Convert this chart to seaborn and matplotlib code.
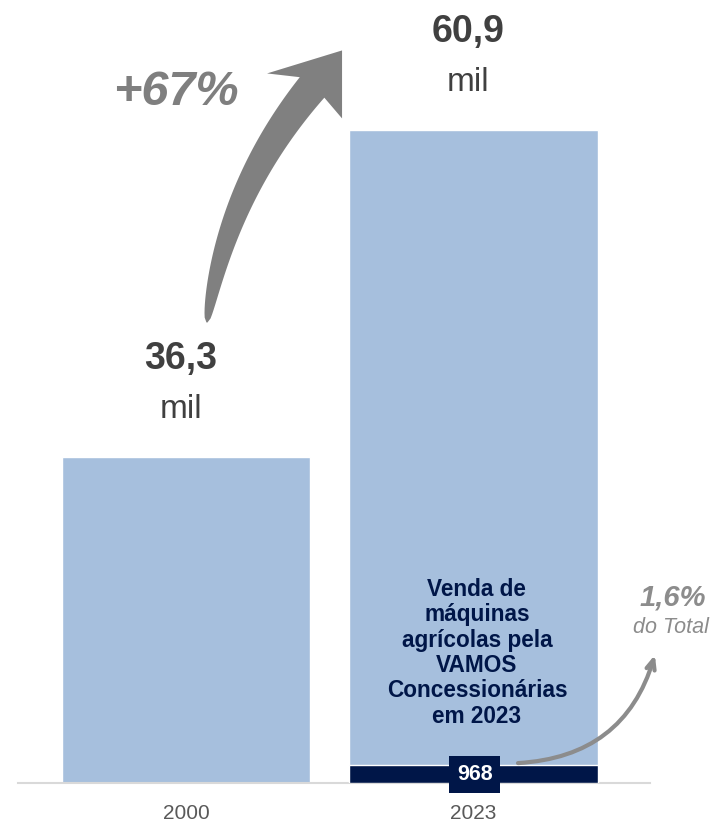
import numpy as np
import seaborn as sns
import matplotlib
matplotlib.use('Agg')
import matplotlib.pyplot as plt
from matplotlib.patches import Polygon
from matplotlib.transforms import IdentityTransform

# data
years = ['2000', '2023']
sales_thousand = [36.3, 60.9]
value_labels = ['36,3', '60,9']
growth_label = '+67%'
vamos_units = 968
vamos_share = '1,6%'
vamos_text = 'Venda de\nmáquinas\nagrícolas pela\nVAMOS\nConcessionárias\nem 2023'

bar_color = '#A6BFDD'
navy = '#001648'
gray_txt = '#404040'
arrow_gray = '#808080'

sns.set_style('white')
plt.rcParams['font.family'] = ['Liberation Sans', 'DejaVu Sans']

fig = plt.figure(figsize=(7.16, 8.22), dpi=100)
ax = fig.add_axes([18 / 716, 39 / 822, 632 / 716, 783 / 822])

bw = 0.863
sns.barplot(x=years, y=sales_thousand, ax=ax, color=bar_color, saturation=1, width=bw)

# axis starts above zero like the original slide
y_low = 11.7
ax.set_ylim(y_low, 70.7)
ax.set_xlim(-0.584, 1.614)

# dark strip at the bottom of the 2023 bar for the VAMOS units
band = 1.35
ax.bar(1, band, bottom=y_low, width=bw, color=navy, zorder=3)
ax.text(1.005, y_low + band / 2 - 0.05, f'{vamos_units}', ha='center', va='center',
        color='white', fontsize=15.5, fontweight='bold', zorder=5,
        bbox=dict(boxstyle='square,pad=0.36', fc=navy, ec='none'), clip_on=False)

# labels above bars
for i, (v, lab) in enumerate(zip(sales_thousand, value_labels)):
    ax.annotate(lab, (i, v), xytext=(-5, 88), textcoords='offset pixels',
                ha='center', va='baseline', fontsize=27, fontweight='bold', color=gray_txt)
    ax.annotate('mil', (i, v), xytext=(-5, 39), textcoords='offset pixels',
                ha='center', va='baseline', fontsize=24, color=gray_txt)

# big curved growth arrow (tapered shaft + head), built in pixel space
T = ax.transData.transform((0.073, 46.4))      # tail point
tip = ax.transData.transform((0.543, 66.9))    # head tip
B = tip + np.array([-30, -37])                 # end of shaft
C = T + np.array([20, 133])                    # bezier control
t = np.linspace(0, 1, 60)[:, None]
pts = (1 - t) ** 2 * T + 2 * (1 - t) * t * C + t ** 2 * B
d = 2 * (1 - t) * (C - T) + 2 * t * (B - C)
d = d / np.linalg.norm(d, axis=1, keepdims=True)
nrm = np.column_stack([d[:, 1], -d[:, 0]])
w = 1 + 31 * t[:, 0] ** 0.45
right = pts + nrm * w[:, None] / 2
left = pts - nrm * w[:, None] / 2
head = [right[-1], tip + np.array([0, -68]), tip, tip + np.array([-75, -23]), left[-1]]
shape = np.vstack([right, head, left[::-1]])
fig.add_artist(Polygon(shape, closed=True, fc=arrow_gray, ec='none',
                       transform=IdentityTransform()))

ax.text(-0.035, 62.8, growth_label, ha='center', va='baseline', fontsize=35,
        fontweight='bold', fontstyle='italic', color='#7f7f7f')

# VAMOS note inside the 2023 bar
ax.text(1.012, 21.5, vamos_text, ha='center', va='center', fontsize=16.3,
        fontweight='bold', color=navy, linespacing=1.13)

# small arrow to share of total
ax.annotate('', xy=(1.631, 21.35), xytext=(1.155, 13.2),
            arrowprops=dict(arrowstyle='->,head_length=0.7,head_width=0.3',
                            connectionstyle='arc3,rad=0.35', color='#8c8c8c',
                            lw=3, shrinkA=0, shrinkB=0), annotation_clip=False)
ax.text(1.694, 25.64, vamos_share, ha='center', va='center', fontsize=21,
        fontweight='bold', fontstyle='italic', color='#8c8c8c', clip_on=False)
ax.text(1.687, 23.38, 'do Total', ha='center', va='center', fontsize=15.5,
        fontstyle='italic', color='#8c8c8c', clip_on=False)

for s in ['top', 'left', 'right']:
    ax.spines[s].set_visible(False)
ax.spines['bottom'].set_color('#d9d9d9')
ax.spines['bottom'].set_linewidth(1.5)
ax.set_yticks([])
ax.set_xlabel('')
ax.set_ylabel('')
ax.tick_params(axis='x', length=0, pad=15, labelcolor='#595959')
for lbl in ax.get_xticklabels():
    lbl.set_family(['Liberation Sans Narrow', 'Liberation Sans'])
    lbl.set_fontsize(15)

fig.savefig('out.png', dpi=100)
